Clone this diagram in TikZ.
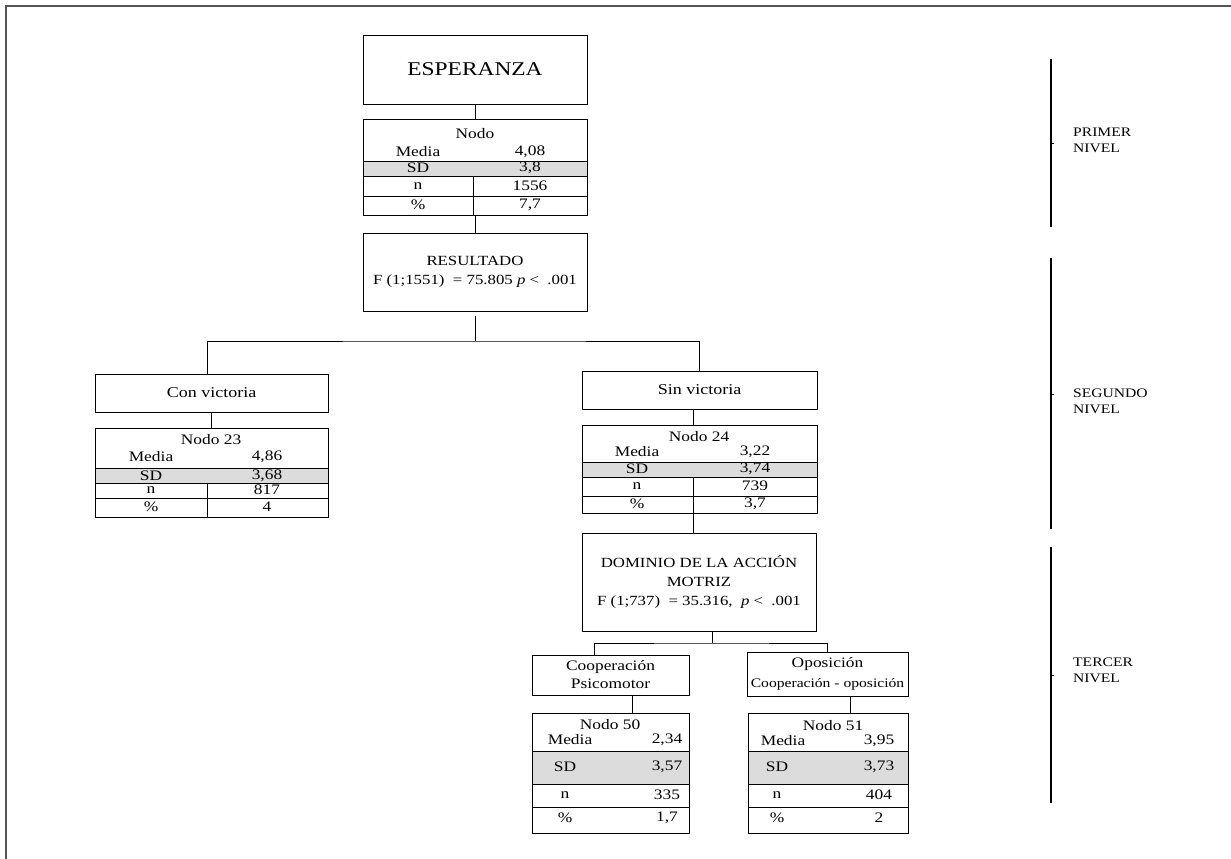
\documentclass[tikz,border=0pt]{standalone}
\usepackage{fontspec}
\setmainfont[FakeStretch=1.2]{Liberation Serif}
\definecolor{sdgray}{HTML}{DCDCDC}
\definecolor{framegray}{HTML}{555555}
\begin{document}
\begin{tikzpicture}[x=1pt,y=-1pt,
  box/.style={draw, line width=0.8pt, inner sep=0pt, align=center},
  tbl/.style={draw, line width=0.8pt, inner sep=0pt, anchor=north west},
  conn/.style={line width=0.8pt},
  tline/.style={line width=0.6pt},
  lvl/.style={line width=2pt},
  tt/.style={inner sep=0pt, font=\fontsize{14.5}{16}\selectfont},
  lvlt/.style={anchor=west, align=left, inner sep=0pt, font=\fontsize{13}{16}\selectfont}]
\useasboundingbox (0,0) rectangle (1231,859);
% frame
\draw[framegray, line width=1.5pt] (6,859) -- (6,6) -- (1231,6);

% main boxes
\node[box, minimum width=224, minimum height=69, font=\fontsize{19.5}{22}\selectfont] (esp) at (475,69.5) {ESPERANZA};
\node[box, minimum width=224, minimum height=78, font=\fontsize{14}{19}\selectfont] (res) at (475,272) {RESULTADO\\F (1;1551) \ = 75.805 \textit{p} <\ \ .001};
\node[box, minimum width=233, minimum height=38, font=\fontsize{15}{18}\selectfont] (con) at (211.5,393) {Con victoria};
\node[box, minimum width=235, minimum height=38, font=\fontsize{15}{18}\selectfont] (sin) at (699.5,390) {Sin victoria};
\node[box, minimum width=234, minimum height=98, font=\fontsize{14}{19}\selectfont] (dom) at (699,582) {DOMINIO DE LA ACCIÓN\\MOTRIZ\\F (1;737) \ = 35.316, \ \textit{p} <\ \ .001};
\node[box, minimum width=157, minimum height=40, font=\fontsize{14.5}{18}\selectfont] (coop) at (610.5,675) {Cooperación\\Psicomotor};
\node[box, minimum width=161, minimum height=44, font=\fontsize{13}{20}\selectfont] (opo) at (827.5,674) {{\fontsize{14.5}{20}\selectfont Oposición}\\Cooperación - oposición};

% table Nodo
\fill[sdgray] (363,161) rectangle (587,176);
\node[tbl, minimum width=224, minimum height=96] (t0) at (363,119) {};
\draw[tline] (363,161) -- (587,161) (363,176) -- (587,176) (363,196) -- (587,196) (473,176) -- (473,215);
\node[tt] at (475,134) {Nodo};
\node[tt] at (418,152) {Media}; \node[tt] at (530,152) {4,08};
\node[tt] at (418,168) {SD};    \node[tt] at (530,168) {3,8};
\node[tt] at (418,186) {n};     \node[tt] at (530,186) {1556};
\node[tt] at (418,205) {\%};    \node[tt] at (530,205) {7,7};

% table Nodo 23
\fill[sdgray] (95,468) rectangle (328,483);
\node[tbl, minimum width=233, minimum height=89] (t23) at (95,428) {};
\draw[tline] (95,468) -- (328,468) (95,483) -- (328,483) (95,498) -- (328,498) (207,483) -- (207,517);
\node[tt] at (211,440) {Nodo 23};
\node[tt] at (151,457) {Media}; \node[tt] at (267,457) {4,86};
\node[tt] at (151,476) {SD};    \node[tt] at (267,476) {3,68};
\node[tt] at (151,490) {n};     \node[tt] at (267,490) {817};
\node[tt] at (151,507) {\%};    \node[tt] at (267,507) {4};

% table Nodo 24
\fill[sdgray] (582,462) rectangle (817,477);
\node[tbl, minimum width=235, minimum height=88] (t24) at (582,425) {};
\draw[tline] (582,462) -- (817,462) (582,477) -- (817,477) (582,496) -- (817,496) (693,477) -- (693,513);
\node[tt] at (699,437) {Nodo 24};
\node[tt] at (637,452) {Media}; \node[tt] at (755,452) {3,22};
\node[tt] at (637,469) {SD};    \node[tt] at (755,469) {3,74};
\node[tt] at (637,486) {n};     \node[tt] at (755,486) {739};
\node[tt] at (637,504) {\%};    \node[tt] at (755,504) {3,7};

% table Nodo 50
\fill[sdgray] (532,751) rectangle (689,784);
\node[tbl, minimum width=157, minimum height=120] (t50) at (532,713) {};
\draw[tline] (532,751) -- (689,751) (532,784) -- (689,784) (532,807) -- (689,807);
\node[tt] at (610,725) {Nodo 50};
\node[tt] at (570,740) {Media}; \node[tt] at (667,740) {2,34};
\node[tt] at (565,767) {SD};    \node[tt] at (667,767) {3,57};
\node[tt] at (565,795) {n};     \node[tt] at (667,795) {335};
\node[tt] at (565,818) {\%};    \node[tt] at (667,818) {1,7};

% table Nodo 51
\fill[sdgray] (748,751) rectangle (908,784);
\node[tbl, minimum width=160, minimum height=120] (t51) at (748,713) {};
\draw[tline] (748,751) -- (908,751) (748,784) -- (908,784) (748,807) -- (908,807);
\node[tt] at (833,726) {Nodo 51};
\node[tt] at (783,741) {Media}; \node[tt] at (879,741) {3,95};
\node[tt] at (777,767) {SD};    \node[tt] at (879,767) {3,73};
\node[tt] at (777,795) {n};     \node[tt] at (879,795) {404};
\node[tt] at (777,818) {\%};    \node[tt] at (879,818) {2};

% connectors
\coordinate (j1) at (475,341);
\coordinate (j2) at (712,643);
\draw[conn] (esp.south) -- (esp.south |- t0.north);
\draw[conn] (t0.south) -- (t0.south |- res.north);
\draw[conn] ([yshift=-5pt]res.south) -- (j1);
\draw[conn] ([xshift=-4pt]con.north) |- (j1) -| (sin.north);
\draw[conn] (con.south) -- (con.south |- t23.north);
\draw[conn] ([xshift=-6.5pt]sin.south) -- ([xshift=-6.5pt]sin.south |- t24.north);
\draw[conn] ([xshift=-6.5pt]t24.south) -- ([xshift=-6.5pt]t24.south |- dom.north);
\draw[conn] ([xshift=13pt]dom.south) -- (j2);
\draw[conn] ([xshift=-16pt]coop.north) |- (j2) -| (opo.north);
\draw[conn] ([xshift=22pt]coop.south) -- ([xshift=22pt]coop.south |- t50.north);
\draw[conn] ([xshift=23pt]opo.south) -- ([xshift=23pt]opo.south |- t51.north);

% level brackets
\draw[lvl] (1051,59) -- (1051,227);
\draw[line width=1pt] (1051,143) -- (1054,143);
\node[lvlt] (l1) at (1073,140) {PRIMER\\NIVEL};
\draw[lvl] (1051,258) -- (1051,529);
\draw[line width=1pt] (1051,394) -- (1054,394);
\node[lvlt] (l2) at (1073,401) {SEGUNDO\\NIVEL};
\draw[lvl] (1051,547) -- (1051,803);
\draw[line width=1pt] (1051,675) -- (1054,675);
\node[lvlt] (l3) at (1073,670) {TERCER\\NIVEL};
\end{tikzpicture}
\end{document}
